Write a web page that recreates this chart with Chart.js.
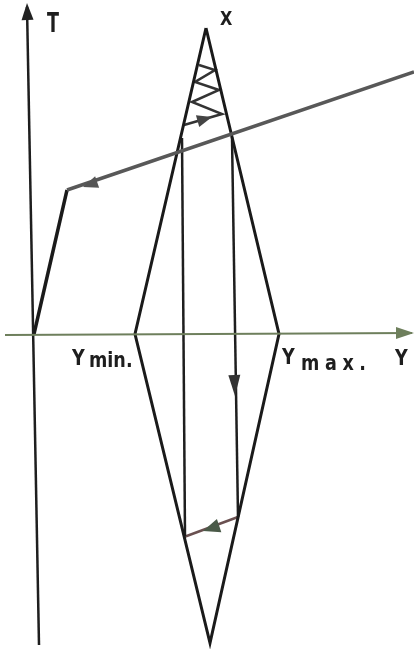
<!DOCTYPE html>
<html lang="en">
<head>
  <meta charset="UTF-8">
  <title>T - Y diagram</title>
  <script src="https://cdn.jsdelivr.net/npm/chart.js"></script>
  <style>
    html, body { margin: 0; padding: 0; background: #fff; }
    #diagram { display: block; }
  </style>
</head>
<body>
  <canvas id="diagram" width="414" height="649"></canvas>

  <script>
    // drawing units: Y to the right, T upward, origin where the axes cross
    const yAxisLine = [[-29, -1], [378, 1]];
    const tAxisLine = [[5, -311], [-7, 327]];
    // X apex, Ymin, lower tip, Ymax
    const diamond = [[172, 306], [101, 0], [176, -309], [245, 0], [172, 306]];
    const tLineSteep = [[0, 0], [33, 144]];
    const tLineFlat = [[33, 144], [380, 262]];
    const leftDrop = [[148, 196], [151, -202]];
    const rightDrop = [[198, 197], [204, -183]];
    const bottomStep = [[204, -183], [150, -203]];
    const zigzag = [[150, 209], [188, 220], [158, 232], [185, 244], [161, 252], [181, 264], [165, 269]];

    // arrow heads: tip and a point behind it on the same line
    const arrowTips  = [[-7, 331], [380, 1], [49, 147], [178, 217], [201, -62], [169, -197]];
    const arrowTails = [[-6, 300], [350, 1], [66, 153], [164, 213], [200, -30], [184, -192]];

    const labelText = ['T', 'X', 'Y', 'min.', 'Y', 'max.', 'Y'];
    const labelPos  = [[13, 302], [186, 309], [38, -31], [55, -33], [248, -30], [267, -36], [361, -31]];

    const ctx = document.getElementById('diagram').getContext('2d');

    function line(points, color, width) {
      return {
        data: points.map(p => ({ x: p[0], y: p[1] })),
        showLine: true,
        borderColor: color,
        borderWidth: width,
        pointRadius: 0,
        fill: false,
        tension: 0
      };
    }

    const arrowColors = ['#222', '#6e7f5c', '#555', '#444', '#333', '#4a5a48'];
    const arrowSizes = [[17, 6], [18, 6], [15, 6], [15, 6], [21, 6], [17, 7]];

    const extras = {
      id: 'extras',
      afterDatasetsDraw(chart) {
        const c = chart.ctx;
        const sx = chart.scales.x, sy = chart.scales.y;
        c.save();
        arrowTips.forEach((t, i) => {
          const tx = sx.getPixelForValue(t[0]), ty = sy.getPixelForValue(t[1]);
          const bx = sx.getPixelForValue(arrowTails[i][0]), by = sy.getPixelForValue(arrowTails[i][1]);
          const a = Math.atan2(ty - by, tx - bx);
          const len = arrowSizes[i][0], hw = arrowSizes[i][1];
          c.fillStyle = arrowColors[i];
          c.beginPath();
          c.moveTo(tx, ty);
          c.lineTo(tx - len * Math.cos(a) + hw * Math.sin(a), ty - len * Math.sin(a) - hw * Math.cos(a));
          c.lineTo(tx - len * Math.cos(a) - hw * Math.sin(a), ty - len * Math.sin(a) + hw * Math.cos(a));
          c.closePath();
          c.fill();
        });
        c.fillStyle = '#1e1e1e';
        c.textBaseline = 'alphabetic';
        labelText.forEach((s, i) => {
          const px = sx.getPixelForValue(labelPos[i][0]), py = sy.getPixelForValue(labelPos[i][1]);
          let squeeze = 0.8;
          if (s === 'T') { c.font = 'bold 27px "DejaVu Sans", sans-serif'; squeeze = 0.65; }
          else if (s === 'X') c.font = 'bold 20px "DejaVu Sans", sans-serif';
          else c.font = 'bold 22px "DejaVu Sans", sans-serif';
          c.letterSpacing = s === 'max.' ? '7px' : '0px';
          c.save();
          c.translate(px, py);
          c.scale(squeeze, 1);
          c.fillText(s, 0, 0);
          c.restore();
        });
        c.restore();
      }
    };

    new Chart(ctx, {
      type: 'scatter',
      data: {
        datasets: [
          line(yAxisLine, '#6e7f5c', 2),
          line(tAxisLine, '#1e1e1e', 2.5),
          line(tLineFlat, '#585858', 3.5),
          line(tLineSteep, '#1a1a1a', 3.5),
          line(diamond, '#1a1a1a', 3),
          line(leftDrop, '#1e1e1e', 2.5),
          line(rightDrop, '#1e1e1e', 2.5),
          line(bottomStep, '#6a5050', 2.5),
          line(zigzag, '#333', 2.5)
        ]
      },
      options: {
        responsive: false,
        animation: false,
        layout: { padding: 0 },
        plugins: { legend: { display: false }, tooltip: { enabled: false } },
        scales: {
          x: { type: 'linear', min: -34, max: 380, display: false },
          y: { type: 'linear', min: -315, max: 334, display: false }
        }
      },
      plugins: [extras]
    });
  </script>
</body>
</html>
